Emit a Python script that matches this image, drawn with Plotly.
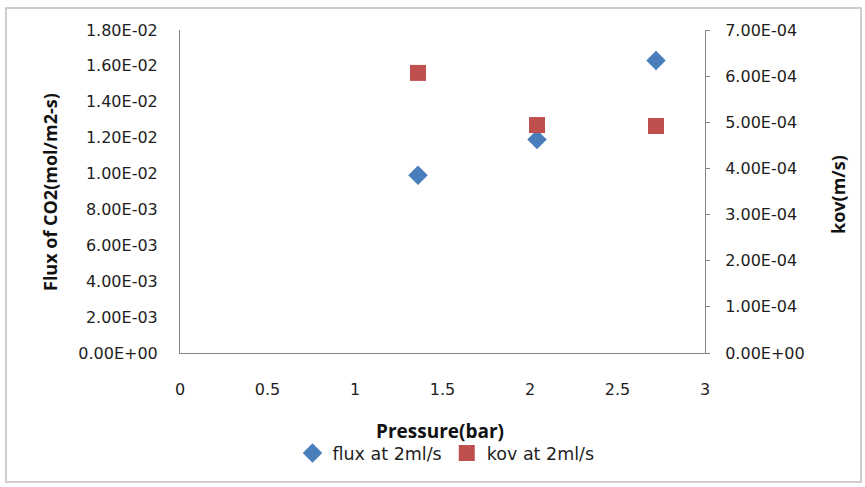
import plotly.graph_objects as go

pressure = [1.36, 2.04, 2.72]
flux = [0.0099, 0.0119, 0.0163]
kov = [6.07e-4, 4.94e-4, 4.92e-4]

x_ticks = [0, 0.5, 1, 1.5, 2, 2.5, 3]
x_ticklabels = ["0", "0.5", "1", "1.5", "2", "2.5", "3"]
left_ticks = [0, 0.002, 0.004, 0.006, 0.008, 0.010, 0.012, 0.014, 0.016, 0.018]
left_ticklabels = ["0.00E+00", "2.00E-03", "4.00E-03", "6.00E-03", "8.00E-03",
                   "1.00E-02", "1.20E-02", "1.40E-02", "1.60E-02", "1.80E-02"]
right_ticks = [0, 1e-4, 2e-4, 3e-4, 4e-4, 5e-4, 6e-4, 7e-4]
right_ticklabels = ["0.00E+00", "1.00E-04", "2.00E-04", "3.00E-04",
                    "4.00E-04", "5.00E-04", "6.00E-04", "7.00E-04"]

tick_font = dict(family="DejaVu Sans, sans-serif", size=16, color="#1e1e1e")
title_font = dict(family="Open Sans, Liberation Sans, sans-serif", size=18, color="#111")

fig = go.Figure()
fig.add_trace(go.Scatter(
    x=pressure, y=flux, mode="markers", name="flux at 2ml/s",
    marker=dict(symbol="diamond", size=15, color="#4A7EBB"), yaxis="y"))
fig.add_trace(go.Scatter(
    x=pressure, y=kov, mode="markers", name="kov at 2ml/s",
    marker=dict(symbol="square", size=16, color="#C0504D"), yaxis="y2"))

L, R, T, B = 180, 160, 30, 134
W, H = 865, 487
pw, ph = W - L - R, H - T - B

def px(xp):
    return (xp - L) / pw

def py(yp):
    return (H - B - yp) / ph

fig.update_layout(
    width=W, height=H,
    margin=dict(l=L, r=R, t=T, b=B, autoexpand=False),
    paper_bgcolor="white", plot_bgcolor="white",
    showlegend=True,
    legend=dict(orientation="h", x=px(446), xanchor="center", y=py(435), yanchor="top",
                font=dict(family="DejaVu Sans, sans-serif", size=17.5, color="#1e1e1e"),
                itemwidth=30, bgcolor="rgba(0,0,0,0)"),
    xaxis=dict(range=[0, 3], tickvals=x_ticks, ticktext=x_ticklabels, automargin=False,
               showgrid=False, zeroline=False, showline=True, linecolor="#868686",
               linewidth=1, ticks="", tickfont=tick_font, ticklabelstandoff=22),
    yaxis=dict(range=[0, 0.018], tickvals=left_ticks, ticktext=left_ticklabels,
               automargin=False,
               showgrid=False, zeroline=False, showline=True, linecolor="#868686",
               linewidth=1, ticks="", tickfont=tick_font, ticklabelstandoff=18),
    yaxis2=dict(range=[0, 7e-4], tickvals=right_ticks, ticktext=right_ticklabels,
                automargin=False,
                overlaying="y", side="right", showgrid=False, zeroline=False,
                showline=True, linecolor="#868686", linewidth=1,
                ticks="outside", ticklen=4, tickcolor="#868686",
                tickfont=tick_font, ticklabelstandoff=12),
)

fig.add_annotation(text="<b>Flux of CO2(mol/m2-s)</b>", xref="paper", yref="paper",
                   x=px(50), y=py(192), textangle=-90, showarrow=False,
                   font=title_font, xanchor="center", yanchor="middle")
fig.add_annotation(text="<b>kov(m/s)</b>", xref="paper", yref="paper",
                   x=px(838), y=py(195), textangle=-90, showarrow=False,
                   font=title_font, xanchor="center", yanchor="middle")
fig.add_annotation(text="<b>Pressure(bar)</b>", xref="paper", yref="paper",
                   x=px(440), y=py(431), showarrow=False,
                   font=dict(family="Open Sans, Liberation Sans, sans-serif", size=19, color="#111"),
                   xanchor="center", yanchor="middle")

fig.add_shape(type="rect", xref="paper", yref="paper",
              x0=px(6), x1=px(861), y0=py(482), y1=py(8),
              line=dict(color="#BFBFBF", width=1.5), fillcolor="rgba(0,0,0,0)", layer="above")

fig.write_html("out.html", config={"displayModeBar": False},
               post_script="document.body.style.margin='0';document.body.style.overflow='hidden';")
